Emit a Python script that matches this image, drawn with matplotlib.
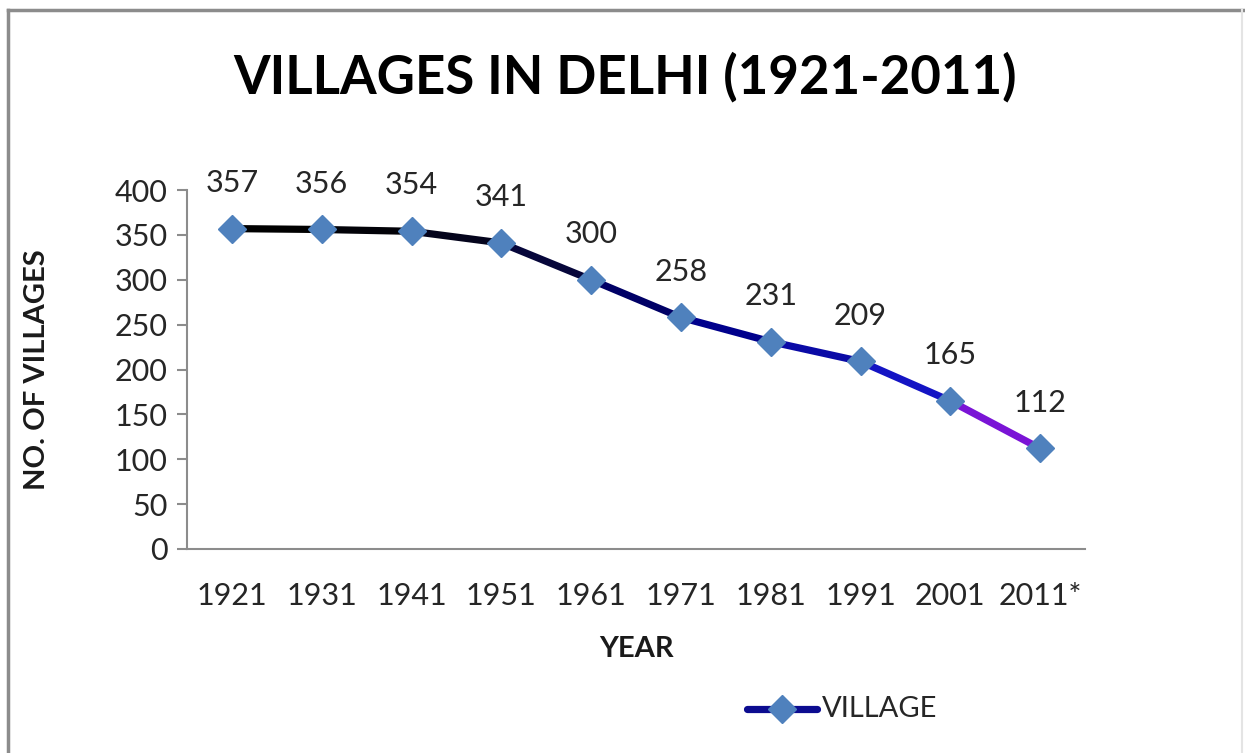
import matplotlib
matplotlib.use("Agg")
import matplotlib.pyplot as plt
from matplotlib.collections import LineCollection
from matplotlib.lines import Line2D
import numpy as np

years = ["1921", "1931", "1941", "1951", "1961", "1971", "1981", "1991", "2001", "2011*"]
villages = [357, 356, 354, 341, 300, 258, 231, 209, 165, 112]
yticks = [0, 50, 100, 150, 200, 250, 300, 350, 400]

title = "VILLAGES IN DELHI (1921-2011)"
xlabel = "YEAR"
ylabel = "NO. OF VILLAGES"
series_name = "VILLAGE"

plt.rcParams['font.family'] = ['Lato', 'DejaVu Sans']

W, H = 1245, 753
fig = plt.figure(figsize=(W / 100, H / 100), dpi=100)
fig.patch.set_facecolor('white')

# outer frame
fig.add_artist(Line2D([7.5 / W, 7.5 / W], [0, 1 - 9.5 / H], transform=fig.transFigure,
                      color='#8c8c8c', lw=2.5))
fig.add_artist(Line2D([7.5 / W, 1], [1 - 9.5 / H, 1 - 9.5 / H], transform=fig.transFigure,
                      color='#8c8c8c', lw=2.5))
fig.add_artist(Line2D([1242 / W, 1242 / W], [0, 1 - 9.5 / H], transform=fig.transFigure,
                      color='#e4e4e4', lw=1.5))

ax = fig.add_axes([187 / W, 1 - 549 / H, (1085 - 187) / W, (549 - 190) / H])
x = np.arange(len(years))

pts = np.column_stack([x, villages])
segs = [pts[i:i + 2] for i in range(len(pts) - 1)]
seg_colors = ['#000000', '#020208', '#04041c', '#06063a', '#000066', '#00008c',
              '#0a0aa6', '#1414c4', '#7a14d6']
lc = LineCollection(segs, colors=seg_colors, linewidths=5.2, capstyle='round',
                    joinstyle='round', zorder=2)
ax.add_collection(lc)
ax.plot(x, villages, linestyle='none', marker='D', markersize=14,
        color='#4f81bd', markeredgecolor='#4f81bd', zorder=3)

for xi, v in zip(x, villages):
    ax.annotate(str(v), (xi, v), xytext=(0, 33), textcoords='offset points',
                ha='center', va='center', fontsize=22, color='#262626')

ax.set_xlim(-0.5, len(years) - 0.5)
ax.set_ylim(0, 400)
ax.set_yticks(yticks)
ax.set_yticklabels([str(t) for t in yticks])
ax.set_xticks(x)
ax.set_xticklabels(years)

for s in ['top', 'right']:
    ax.spines[s].set_visible(False)
for s in ['left', 'bottom']:
    ax.spines[s].set_color('#8c8c8c')
    ax.spines[s].set_linewidth(1.5)

ax.tick_params(axis='y', length=7, width=1.5, color='#8c8c8c', labelsize=22,
               labelcolor='#262626', pad=7)
ax.tick_params(axis='x', length=0, labelsize=22, labelcolor='#262626', pad=24)

fig.text(37 / W, 1 - 370 / H, ylabel, rotation=90, ha='center', va='center',
         fontsize=21, fontweight='bold', color='#1a1a1a')
fig.text(636 / W, 1 - 649 / H, xlabel, ha='center', va='center',
         fontsize=21, fontweight='bold', color='#1a1a1a')
fig.text(625 / W, 1 - 77 / H, title, ha='center', va='center',
         fontsize=38, fontweight='bold', color='#000000')

# legend
fig.add_artist(Line2D([747 / W, 817 / W], [1 - 709 / H, 1 - 709 / H], transform=fig.transFigure,
                      color='#0c0c90', lw=5.2, solid_capstyle='round'))
fig.add_artist(Line2D([782 / W], [1 - 709 / H], transform=fig.transFigure, marker='D',
                      markersize=14, color='#4f81bd', linestyle='none'))
fig.text(822 / W, 1 - 709 / H, series_name, ha='left', va='center', fontsize=21,
         color='#262626')

fig.savefig('out.png', dpi=100, facecolor='white')
